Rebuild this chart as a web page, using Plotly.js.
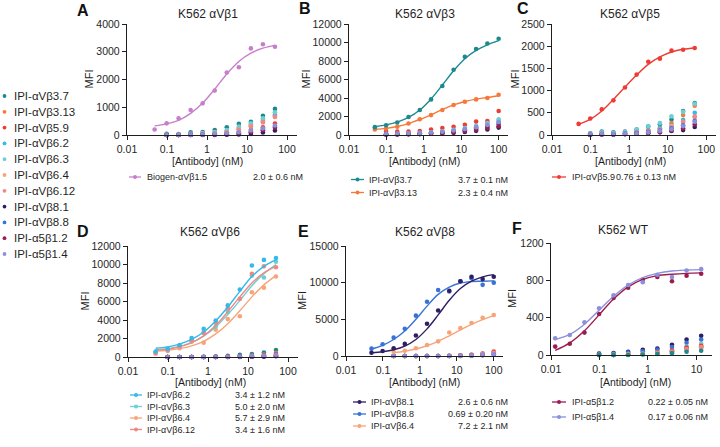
<!DOCTYPE html>
<html>
<head>
<meta charset="utf-8">
<script src="https://cdn.plot.ly/plotly-3.0.1.min.js"></script>
<style>
  body { margin: 0; background: #fff; }
  #chart { width: 720px; height: 447px; }
</style>
</head>
<body>
<div id="chart"></div>
<script>
// shared antibody list (left legend)
const abNames = ['IPI-αVβ3.7', 'IPI-αVβ3.13', 'IPI-αVβ5.9', 'IPI-αVβ6.2', 'IPI-αVβ6.3', 'IPI-αVβ6.4',
  'IPI-αVβ6.12', 'IPI-αVβ8.1', 'IPI-αVβ8.8', 'IPI-α5β1.2', 'IPI-α5β1.4'];
const abColors = ['#1b8a8f', '#f7793a', '#ee3b34', '#33b9ea', '#6dcfd3', '#f8a47a',
  '#f08783', '#2e1f63', '#3a73d6', '#9b1d50', '#8c8fdc'];
const biogenColor = '#c77fcb';

// A: K562 aVb1
const concA = [0.049, 0.098, 0.195, 0.39, 0.78, 1.56, 3.125, 6.25, 12.5, 25, 50];
const concAbg = [0.098, 0.195, 0.39, 0.78, 1.56, 3.125, 6.25, 12.5, 25, 50];
const a15 = [200, 420, 600, 900, 1140, 1600, 2250, 2440, 3120, 3270, 3180];
const a15Fit = [330, 400, 530, 780, 1150, 1650, 2200, 2650, 2950, 3130, 3230];
const bgAIds = [0, 1, 2, 3, 4, 5, 6, 7, 8, 9, 10];
const bgA = [
  [40, 30, 100, 110, 180, 280, 400, 480, 690, 940],
  [0, 20, 40, 60, 90, 140, 260, 380, 540, 730],
  [0, 0, 10, 20, 40, 80, 130, 190, 280, 410],
  [10, 10, 30, 50, 70, 120, 220, 330, 500, 700],
  [20, 20, 40, 70, 110, 180, 300, 420, 600, 820],
  [0, 10, 20, 40, 60, 110, 200, 310, 450, 650],
  [0, 10, 20, 30, 60, 100, 190, 300, 470, 660],
  [0, 0, 0, 0, 0, 10, 20, 40, 90, 160],
  [0, 0, 10, 10, 20, 40, 70, 120, 200, 300],
  [0, 0, 0, 10, 20, 30, 60, 100, 170, 260],
  [0, 10, 10, 20, 40, 60, 100, 160, 240, 340]
];

// B: K562 aVb3
const concB = [0.049, 0.098, 0.195, 0.39, 0.78, 1.56, 3.125, 6.25, 12.5, 25, 50, 100];
const concBbg = [0.098, 0.195, 0.39, 0.78, 1.56, 3.125, 6.25, 12.5, 25, 50, 100];
const b37 = [850, 1050, 1350, 1950, 2700, 3850, 5300, 7050, 8450, 9300, 9900, 10400];
const b37Fit = [900, 1100, 1400, 1900, 2700, 3900, 5400, 6950, 8250, 9150, 9750, 10200];
const b313 = [600, 700, 900, 1250, 1700, 2150, 2700, 3250, 3600, 3850, 4000, 4350];
const b313Fit = [620, 720, 920, 1230, 1680, 2200, 2750, 3250, 3620, 3880, 4050, 4250];
const bgBIds = [2, 3, 4, 5, 6, 7, 8, 9, 10];
const bgB = [
  [360, 360, 380, 430, 600, 750, 900, 1100, 1450, 1500, 2600],
  [100, 120, 150, 200, 250, 330, 450, 650, 900, 1150, 1500],
  [120, 140, 180, 230, 300, 400, 550, 750, 1000, 1300, 1700],
  [80, 100, 130, 170, 220, 300, 400, 550, 750, 950, 1200],
  [90, 110, 140, 180, 240, 320, 430, 600, 800, 1000, 1300],
  [50, 60, 80, 100, 130, 170, 230, 320, 450, 600, 800],
  [80, 100, 120, 160, 210, 280, 380, 520, 700, 900, 1150],
  [60, 70, 90, 120, 160, 220, 300, 420, 580, 750, 950],
  [100, 120, 150, 200, 260, 350, 480, 650, 850, 1100, 1400]
];

// C: K562 aVb5
const concC = [0.049, 0.098, 0.195, 0.39, 0.78, 1.56, 3.125, 6.25, 12.5, 25, 50];
const concCbg = [0.098, 0.195, 0.39, 0.78, 1.56, 3.125, 6.25, 12.5, 25, 50];
const c59 = [250, 370, 580, 780, 1070, 1360, 1650, 1720, 1900, 1920, 1960];
const c59Fit = [240, 350, 540, 800, 1080, 1350, 1590, 1760, 1870, 1930, 1960];
const bgCIds = [0, 1, 3, 4, 5, 6, 7, 8, 9, 10];
const bgC = [
  [40, 80, 60, 80, 120, 190, 240, 350, 540, 720],
  [20, 40, 30, 50, 80, 110, 150, 270, 450, 660],
  [10, 20, 10, 30, 60, 100, 160, 220, 340, 500],
  [30, 60, 50, 70, 120, 200, 270, 420, 520, 700],
  [10, 20, 20, 30, 50, 80, 120, 200, 290, 400],
  [10, 30, 20, 40, 60, 90, 130, 170, 300, 420],
  [0, 10, 10, 20, 30, 50, 70, 90, 110, 180],
  [10, 20, 20, 30, 50, 70, 100, 150, 220, 320],
  [0, 10, 10, 20, 30, 40, 60, 100, 150, 240],
  [10, 20, 20, 30, 40, 60, 90, 130, 200, 300]
];

// D: K562 aVb6
const concD = [0.049, 0.098, 0.195, 0.39, 0.78, 1.56, 3.125, 6.25, 12.5, 25, 50];
const concDbg = [0.098, 0.195, 0.39, 0.78, 1.56, 3.125, 6.25, 12.5, 25, 50];
const d62 = [600, 900, 1300, 2050, 3050, 3950, 5600, 7300, 9900, 10500, 10700];
const d62Fit = [950, 1100, 1400, 1900, 2700, 3900, 5400, 7100, 8700, 9800, 10500];
const d63 = [450, 750, 1150, 1800, 2700, 3300, 4900, 6300, 8800, 8600, 10300];
const d63Fit = [800, 900, 1150, 1550, 2250, 3250, 4600, 6100, 7700, 9000, 10000];
const d64 = [350, 650, 950, 1650, 1550, 2950, 4100, 4400, 7000, 7500, 8700];
const d64Fit = [650, 730, 900, 1200, 1700, 2500, 3600, 5000, 6500, 7800, 8800];
const d612 = [450, 750, 1150, 1800, 2600, 3700, 5300, 6300, 9000, 9800, 9700];
const d612Fit = [750, 850, 1100, 1550, 2300, 3400, 4900, 6500, 8000, 9100, 9800];
const bgDIds = [0, 1, 2, 7, 8, 9, 10];
const bgD = [
  [0, 0, 0, 20, 60, 120, 230, 330, 480, 760],
  [0, 0, 0, 0, 20, 50, 100, 170, 260, 420],
  [0, 0, 0, 0, 10, 30, 60, 120, 200, 330],
  [0, 0, 0, 0, 0, 0, 10, 20, 40, 80],
  [0, 0, 0, 0, 10, 20, 40, 70, 120, 200],
  [0, 0, 0, 0, 0, 10, 20, 40, 80, 130],
  [0, 0, 0, 10, 20, 30, 50, 90, 150, 240]
];

// E: K562 aVb8
const concE = [0.049, 0.098, 0.195, 0.39, 0.78, 1.56, 3.125, 6.25, 12.5, 25, 50, 100];
const concE64 = [0.195, 0.39, 0.78, 1.56, 3.125, 6.25, 12.5, 25, 50, 100];
const e81 = [450, 680, 1050, 1650, 2800, 4400, 6200, 8900, 10200, 10800, 10500, 10800];
const e81Fit = [430, 580, 850, 1350, 2250, 3700, 5600, 7600, 9200, 10200, 10800, 11100];
const e88 = [1000, 1600, 2500, 3700, 5500, 7400, 9000, 8800, 10200, 10600, 9700, 10000];
const e88Fit = [950, 1450, 2250, 3400, 5000, 6800, 8400, 9400, 9950, 10150, 10200, 10250];
const e64 = [580, 720, 1050, 1500, 2000, 3200, 3800, 4500, 5200, 5600];
const e64Fit = [450, 650, 950, 1400, 2000, 2750, 3550, 4300, 4950, 5500];
const bgEIds = [0, 1, 2, 3, 4, 6, 9, 10];
const bgE = [
  [0, 0, 0, 0, 0, 0, 20, 50, 100, 200],
  [0, 0, 0, 0, 0, 20, 60, 150, 300, 500],
  [0, 0, 0, 0, 0, 30, 80, 180, 350, 600],
  [0, 0, 0, 0, 0, 10, 40, 100, 200, 350],
  [0, 0, 0, 0, 0, 20, 50, 120, 250, 400],
  [0, 0, 0, 0, 10, 30, 80, 160, 300, 450],
  [0, 0, 0, 0, 0, 0, 20, 60, 120, 200],
  [0, 0, 0, 0, 0, 10, 30, 80, 150, 250]
];

// F: K562 WT
const concF = [0.0122, 0.0244, 0.049, 0.098, 0.195, 0.39, 0.78, 1.56, 3.125, 6.25, 12.5];
const concFbg = [0.098, 0.195, 0.39, 0.78, 1.56, 3.125, 6.25, 12.5];
const f12 = [90, 120, 240, 440, 610, 720, 805, 835, 790, 850, 870];
const f12Fit = [50, 130, 260, 430, 600, 730, 810, 850, 865, 875, 880];
const f14 = [180, 215, 350, 500, 640, 750, 780, 860, 835, 905, 920];
const f14Fit = [165, 220, 330, 480, 630, 750, 830, 875, 900, 910, 915];
const bgFIds = [7, 8, 4, 1, 2, 3, 5, 6, 0];
const bgF = [
  [15, 20, 35, 55, 70, 110, 165, 205],
  [10, 15, 25, 40, 55, 85, 130, 165],
  [0, 5, 10, 15, 25, 45, 90, 120],
  [0, 0, 5, 10, 20, 40, 70, 100],
  [0, 0, 5, 10, 25, 50, 80, 95],
  [0, 0, 5, 10, 20, 35, 60, 80],
  [0, 0, 5, 10, 15, 30, 50, 70],
  [0, 0, 5, 10, 20, 35, 60, 85],
  [0, 0, 0, 5, 10, 20, 35, 45]
];

// legend texts under each panel
const legA = ['Biogen-αVβ1.5'], ecA = ['2.0 ± 0.6 nM'];
const legB = ['IPI-αVβ3.7', 'IPI-αVβ3.13'], ecB = ['3.7 ± 0.1 nM', '2.3 ± 0.4 nM'];
const legC = ['IPI-αVβ5.9'], ecC = ['0.76 ± 0.13 nM'];
const legD = ['IPI-αVβ6.2', 'IPI-αVβ6.3', 'IPI-αVβ6.4', 'IPI-αVβ6.12'];
const ecD = ['3.4 ± 1.2 nM', '5.0 ± 2.0 nM', '5.7 ± 2.9 nM', '3.4 ± 1.6 nM'];
const legE = ['IPI-αVβ8.1', 'IPI-αVβ8.8', 'IPI-αVβ6.4'];
const ecE = ['2.6 ± 0.6 nM', '0.69 ± 0.20 nM', '7.2 ± 2.1 nM'];
const legF = ['IPI-α5β1.2', 'IPI-α5β1.4'], ecF = ['0.22 ± 0.05 nM', '0.17 ± 0.06 nM'];

// ---------- drawing ----------
const W = 720, H = 447;
const FONT = '"Liberation Sans", Arial, sans-serif';
const INK = '#1f1f1f';
const LEGSIZE = 9;
const px = v => v / W;
const py = v => 1 - v / H;

const traces = [];
const shapes = [];
const annotations = [];

function axId(n) { return n === 1 ? '' : String(n); }

function dots(n, x, y, color) {
  traces.push({
    type: 'scatter', mode: 'markers', x: x, y: y,
    xaxis: 'x' + axId(n), yaxis: 'y' + axId(n),
    marker: { color: color, size: 4.6, line: { width: 0 } },
    cliponaxis: false, showlegend: false, hoverinfo: 'skip'
  });
}

function curve(n, x, y, color) {
  traces.push({
    type: 'scatter', mode: 'lines', x: x, y: y,
    xaxis: 'x' + axId(n), yaxis: 'y' + axId(n),
    line: { color: color, width: 1.4, shape: 'spline', smoothing: 1 },
    cliponaxis: false, showlegend: false, hoverinfo: 'skip'
  });
}

function bg(n, conc, ids, rows) {
  rows.forEach((r, i) => dots(n, conc, r, abColors[ids[i]]));
}

function text(x, y, t, opts) {
  annotations.push(Object.assign({
    xref: 'paper', yref: 'paper', x: px(x), y: py(y), text: t, showarrow: false,
    xanchor: 'center', yanchor: 'middle',
    font: { family: FONT, size: 11, color: INK }
  }, opts || {}));
}

function dot(x, y, r, color) {
  shapes.push({
    type: 'circle', xref: 'paper', yref: 'paper',
    x0: px(x - r), x1: px(x + r), y0: py(y + r), y1: py(y - r),
    fillcolor: color, line: { width: 0 }
  });
}

function panelLegend(names, ecs, colors, s0, s1, tx, ex, y0, dy, ecLeft) {
  names.forEach((nm, i) => {
    const y = y0 + dy * i;
    shapes.push({
      type: 'line', xref: 'paper', yref: 'paper',
      x0: px(s0), x1: px(s1), y0: py(y), y1: py(y),
      line: { color: colors[i], width: 1.3 }
    });
    dot((s0 + s1) / 2, y, 2, colors[i]);
    text(tx, y, nm, { xanchor: 'left', font: { family: FONT, size: LEGSIZE, color: INK } });
    text(ex, y, ecs[i], { xanchor: ecLeft ? 'left' : 'right', font: { family: FONT, size: LEGSIZE, color: INK } });
  });
}

// panel geometry (pixels)
const panels = [
  { n: 1, letter: 'A', title: 'K562 αVβ1', xd: [127, 297], yd: [24, 135], xr: [-2, 2.25],
    xt: [0.01, 0.1, 1, 10, 100], yr: [0, 4000], yt: [0, 1000, 2000, 3000, 4000],
    tX: 208, tY: 14, lX: 83, lY: 10, mX: 88, xtX: 208, xtY: 161 },
  { n: 2, letter: 'B', title: 'K562 αVβ3', xd: [349, 508], yd: [24, 135], xr: [-2, 2.25],
    xt: [0.01, 0.1, 1, 10, 100], yr: [0, 12000], yt: [0, 2000, 4000, 6000, 8000, 10000, 12000],
    tX: 425, tY: 14, lX: 305, lY: 9, mX: 305, xtX: 424, xtY: 161 },
  { n: 3, letter: 'C', title: 'K562 αVβ5', xd: [552, 716], yd: [24, 135], xr: [-2, 2.25],
    xt: [0.01, 0.1, 1, 10, 100], yr: [0, 2500], yt: [0, 500, 1000, 1500, 2000, 2500],
    tX: 630, tY: 14, lX: 523, lY: 8, mX: 514, xtX: 630, xtY: 161 },
  { n: 4, letter: 'D', title: 'K562 αVβ6', xd: [128, 298], yd: [246, 357], xr: [-2, 2.25],
    xt: [0.01, 0.1, 1, 10, 100], yr: [0, 12000], yt: [0, 2000, 4000, 6000, 8000, 10000, 12000],
    tX: 210, tY: 232, lX: 83, lY: 231, mX: 84, xtX: 210, xtY: 382 },
  { n: 5, letter: 'E', title: 'K562 αVβ8', xd: [346, 503], yd: [246, 356], xr: [-2, 2.25],
    xt: [0.01, 0.1, 1, 10, 100], yr: [0, 15000], yt: [0, 5000, 10000, 15000],
    tX: 425, tY: 232, lX: 303, lY: 232, mX: 302, xtX: 424, xtY: 382 },
  { n: 6, letter: 'F', title: 'K562 WT', xd: [551, 712], yd: [243, 355], xr: [-2, 1.32],
    xt: [0.01, 0.1, 1, 10], yr: [0, 1200], yt: [0, 400, 800, 1200],
    tX: 623, tY: 230, lX: 517, lY: 228, mX: 512, xtX: 635, xtY: 382 }
];

const layout = {
  width: W, height: H,
  margin: { l: 0, r: 0, t: 0, b: 0 },
  paper_bgcolor: '#fff', plot_bgcolor: 'rgba(0,0,0,0)',
  showlegend: false,
  font: { family: FONT, color: INK },
  shapes: shapes, annotations: annotations
};

panels.forEach(p => {
  const s = axId(p.n);
  layout['xaxis' + s] = {
    domain: [px(p.xd[0]), px(p.xd[1])], anchor: 'y' + s,
    type: 'log', range: p.xr, tickvals: p.xt, ticktext: p.xt.map(String),
    ticks: 'outside', ticklen: 4, tickwidth: 1, tickcolor: INK,
    showline: true, linecolor: INK, linewidth: 1.2,
    showgrid: false, zeroline: false, fixedrange: true,
    tickfont: { family: FONT, size: 10.5, color: INK }
  };
  layout['yaxis' + s] = {
    domain: [py(p.yd[1]), py(p.yd[0])], anchor: 'x' + s,
    range: p.yr, tickvals: p.yt, ticktext: p.yt.map(String),
    ticks: 'outside', ticklen: 4, tickwidth: 1, tickcolor: INK,
    showline: true, linecolor: INK, linewidth: 1.2,
    showgrid: false, zeroline: false, fixedrange: true,
    tickfont: { family: FONT, size: 10.5, color: INK }
  };
  text(p.tX, p.tY, p.title, { font: { family: FONT, size: 12, color: INK } });
  text(p.lX, p.lY, '<b>' + p.letter + '</b>', { font: { family: FONT, size: 16, color: '#111' } });
  text(p.mX, (p.yd[0] + p.yd[1]) / 2, 'MFI', { textangle: -90, font: { family: FONT, size: 11, color: INK } });
  text(p.xtX, p.xtY, '[Antibody] (nM)', { font: { family: FONT, size: 10.5, color: INK } });
});

// background (non-binding) antibodies
bg(1, concAbg, bgAIds, bgA);
bg(2, concBbg, bgBIds, bgB);
bg(3, concCbg, bgCIds, bgC);
bg(4, concDbg, bgDIds, bgD);
bg(5, concE64, bgEIds, bgE);
bg(6, concFbg, bgFIds, bgF);

// fitted curves and their points
curve(1, concA, a15Fit, biogenColor); dots(1, concA, a15, biogenColor);
curve(2, concB, b313Fit, abColors[1]); dots(2, concB, b313, abColors[1]);
curve(2, concB, b37Fit, abColors[0]); dots(2, concB, b37, abColors[0]);
curve(3, concC, c59Fit, abColors[2]); dots(3, concC, c59, abColors[2]);
curve(4, concD, d64Fit, abColors[5]); dots(4, concD, d64, abColors[5]);
curve(4, concD, d63Fit, abColors[4]); dots(4, concD, d63, abColors[4]);
curve(4, concD, d612Fit, abColors[6]); dots(4, concD, d612, abColors[6]);
curve(4, concD, d62Fit, abColors[3]); dots(4, concD, d62, abColors[3]);
curve(5, concE64, e64Fit, abColors[5]); dots(5, concE64, e64, abColors[5]);
curve(5, concE, e88Fit, abColors[8]); dots(5, concE, e88, abColors[8]);
curve(5, concE, e81Fit, abColors[7]); dots(5, concE, e81, abColors[7]);
curve(6, concF, f12Fit, abColors[9]); dots(6, concF, f12, abColors[9]);
curve(6, concF, f14Fit, abColors[10]); dots(6, concF, f14, abColors[10]);

// shared legend on the left
abNames.forEach((nm, i) => {
  const y = 96 + 15.8 * i;
  dot(4.5, y, 1.9, abColors[i]);
  text(12, y, nm, { xanchor: 'left', font: { family: FONT, size: 11.5, color: INK } });
});

// per-panel legends
panelLegend(legA, ecA, [biogenColor], 129, 141, 145, 305, 177, 13);
panelLegend(legB, ecB, [abColors[0], abColors[1]], 351, 364, 367, 510, 179.5, 13);
panelLegend(legC, ecC, [abColors[2]], 552, 566, 570, 614, 177, 13, true);
panelLegend(legD, ecD, [abColors[3], abColors[4], abColors[5], abColors[6]], 130, 142, 145, 287, 395, 11.5);
panelLegend(legE, ecE, [abColors[7], abColors[8], abColors[5]], 353, 366, 369, 510, 402, 12);
panelLegend(legF, ecF, [abColors[9], abColors[10]], 552, 566, 570, 710, 402, 15);

Plotly.newPlot('chart', traces, layout, { displayModeBar: false, staticPlot: true });
</script>
</body>
</html>
